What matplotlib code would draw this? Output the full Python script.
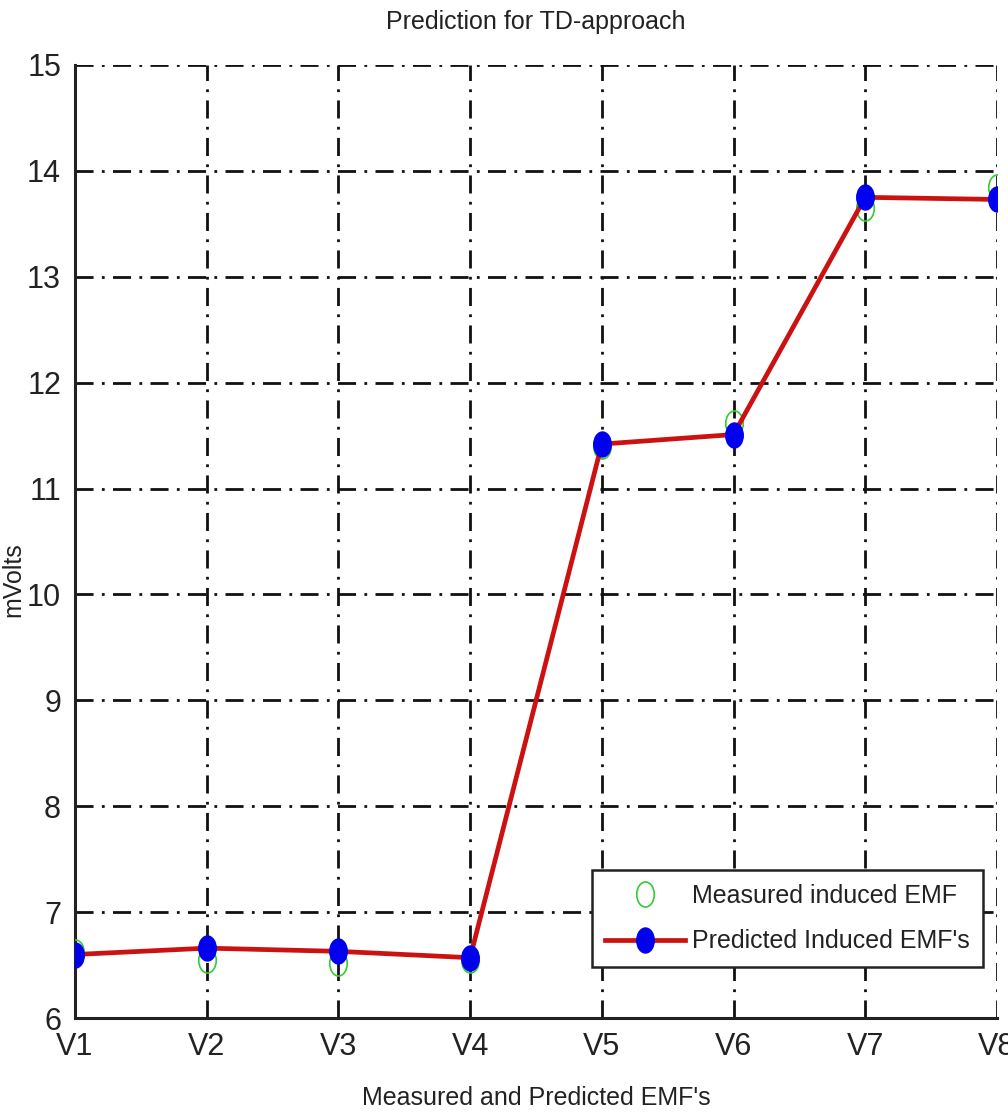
import matplotlib
matplotlib.use("Agg")
import matplotlib.pyplot as plt
from matplotlib.path import Path
from matplotlib.transforms import Affine2D

categories = ["V1", "V2", "V3", "V4", "V5", "V6", "V7", "V8"]
measured = [6.62, 6.55, 6.52, 6.55, 11.40, 11.62, 13.65, 13.85]
predicted = [6.60, 6.66, 6.63, 6.57, 11.42, 11.51, 13.75, 13.73]
yticks = [6, 7, 8, 9, 10, 11, 12, 13, 14, 15]

plt.rcParams["font.family"] = ["Liberation Sans", "DejaVu Sans"]
plt.rcParams["lines.scale_dashes"] = False

fig = plt.figure(figsize=(10.08, 11.18), dpi=100)
ax = fig.add_axes([0.0744, 0.0894, 0.9146, 0.8525])

x = list(range(1, len(categories) + 1))
ell = Path.unit_circle().transformed(Affine2D().scale(0.7, 1.0))

ax.plot(x, measured, linestyle="none", marker=ell, markersize=18,
        markerfacecolor="none", markeredgecolor="#33cc33", markeredgewidth=1.2,
        label="Measured induced EMF", zorder=3)
ax.plot(x, predicted, color="#cc1111", linewidth=3.4, marker=ell, markersize=18,
        markerfacecolor="#0000ee", markeredgecolor="#0000ee",
        label="Predicted Induced EMF's", zorder=4)

ax.set_xlim(1, 8)
ax.set_ylim(6, 15)
ax.set_xticks(x)
ax.set_xticklabels(categories)
ax.set_yticks(yticks)
ax.grid(True, color="#111111", linewidth=2.0, linestyle=(0, (13, 6, 2, 6)))
ax.set_axisbelow(True)
for s in ["top", "right"]:
    ax.spines[s].set_visible(False)
for s in ["left", "bottom"]:
    ax.spines[s].set_linewidth(2.2)
    ax.spines[s].set_color("#222222")
ax.tick_params(direction="in", length=0, labelsize=22, colors="#222222")
ax.tick_params(axis="y", pad=10)
ax.tick_params(axis="x", pad=10)

ax.set_title("Prediction for TD-approach", fontsize=18, color="#222222", pad=26)
ax.set_xlabel("Measured and Predicted EMF's", fontsize=18, color="#222222", labelpad=17)
ax.set_ylabel("mVolts", fontsize=18, color="#222222")
ax.yaxis.set_label_coords(-0.054, 0.46)

leg = ax.legend(loc="lower right", fontsize=18, frameon=True, fancybox=False,
                edgecolor="#222222", framealpha=1, borderpad=0.55, handlelength=3.2,
                handletextpad=0.25, labelspacing=0.85, borderaxespad=0,
                bbox_to_anchor=(0.985, 0.0535))
leg.get_frame().set_linewidth(1.8)
for t in leg.get_texts():
    t.set_color("#222222")

fig.savefig("out.png", dpi=100)
